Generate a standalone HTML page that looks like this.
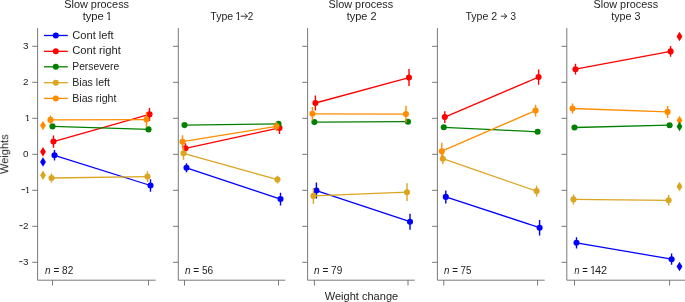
<!DOCTYPE html>
<html><head><meta charset="utf-8"><style>
html,body{margin:0;padding:0;background:#fff;width:685px;height:302px;overflow:hidden}
svg{display:block}
text{font-family:"Liberation Sans",sans-serif;will-change:transform}
</style></head><body>
<svg width="685" height="302" viewBox="0 0 685 302">
<path d="M37.6 28 V280.2 H155.7" fill="none" stroke="#7a7a7a" stroke-width="1"/>
<path d="M32.3 46.3 H37.6" stroke="#777" stroke-width="1"/>
<path d="M32.3 82.3 H37.6" stroke="#777" stroke-width="1"/>
<path d="M32.3 118.3 H37.6" stroke="#777" stroke-width="1"/>
<path d="M32.3 154.3 H37.6" stroke="#777" stroke-width="1"/>
<path d="M32.3 190.3 H37.6" stroke="#777" stroke-width="1"/>
<path d="M32.3 226.3 H37.6" stroke="#777" stroke-width="1"/>
<path d="M32.3 262.3 H37.6" stroke="#777" stroke-width="1"/>
<path d="M52.5 280.2 V285.5" stroke="#777" stroke-width="1"/>
<path d="M148.5 280.2 V285.5" stroke="#777" stroke-width="1"/>
<path d="M178.3 28 V280.2 H285.3" fill="none" stroke="#7a7a7a" stroke-width="1"/>
<path d="M173.0 46.3 H178.3" stroke="#777" stroke-width="1"/>
<path d="M173.0 82.3 H178.3" stroke="#777" stroke-width="1"/>
<path d="M173.0 118.3 H178.3" stroke="#777" stroke-width="1"/>
<path d="M173.0 154.3 H178.3" stroke="#777" stroke-width="1"/>
<path d="M173.0 190.3 H178.3" stroke="#777" stroke-width="1"/>
<path d="M173.0 226.3 H178.3" stroke="#777" stroke-width="1"/>
<path d="M173.0 262.3 H178.3" stroke="#777" stroke-width="1"/>
<path d="M184.5 280.2 V285.5" stroke="#777" stroke-width="1"/>
<path d="M278.5 280.2 V285.5" stroke="#777" stroke-width="1"/>
<path d="M307.6 28 V280.2 H414.7" fill="none" stroke="#7a7a7a" stroke-width="1"/>
<path d="M302.3 46.3 H307.6" stroke="#777" stroke-width="1"/>
<path d="M302.3 82.3 H307.6" stroke="#777" stroke-width="1"/>
<path d="M302.3 118.3 H307.6" stroke="#777" stroke-width="1"/>
<path d="M302.3 154.3 H307.6" stroke="#777" stroke-width="1"/>
<path d="M302.3 190.3 H307.6" stroke="#777" stroke-width="1"/>
<path d="M302.3 226.3 H307.6" stroke="#777" stroke-width="1"/>
<path d="M302.3 262.3 H307.6" stroke="#777" stroke-width="1"/>
<path d="M314.4 280.2 V285.5" stroke="#777" stroke-width="1"/>
<path d="M408.0 280.2 V285.5" stroke="#777" stroke-width="1"/>
<path d="M437.4 28 V280.2 H544.7" fill="none" stroke="#7a7a7a" stroke-width="1"/>
<path d="M432.1 46.3 H437.4" stroke="#777" stroke-width="1"/>
<path d="M432.1 82.3 H437.4" stroke="#777" stroke-width="1"/>
<path d="M432.1 118.3 H437.4" stroke="#777" stroke-width="1"/>
<path d="M432.1 154.3 H437.4" stroke="#777" stroke-width="1"/>
<path d="M432.1 190.3 H437.4" stroke="#777" stroke-width="1"/>
<path d="M432.1 226.3 H437.4" stroke="#777" stroke-width="1"/>
<path d="M432.1 262.3 H437.4" stroke="#777" stroke-width="1"/>
<path d="M443.8 280.2 V285.5" stroke="#777" stroke-width="1"/>
<path d="M537.6 280.2 V285.5" stroke="#777" stroke-width="1"/>
<path d="M566.8 28 V280.2 H686" fill="none" stroke="#7a7a7a" stroke-width="1"/>
<path d="M561.5 46.3 H566.8" stroke="#777" stroke-width="1"/>
<path d="M561.5 82.3 H566.8" stroke="#777" stroke-width="1"/>
<path d="M561.5 118.3 H566.8" stroke="#777" stroke-width="1"/>
<path d="M561.5 154.3 H566.8" stroke="#777" stroke-width="1"/>
<path d="M561.5 190.3 H566.8" stroke="#777" stroke-width="1"/>
<path d="M561.5 226.3 H566.8" stroke="#777" stroke-width="1"/>
<path d="M561.5 262.3 H566.8" stroke="#777" stroke-width="1"/>
<path d="M574.5 280.2 V285.5" stroke="#777" stroke-width="1"/>
<path d="M669.6 280.2 V285.5" stroke="#777" stroke-width="1"/>
<clipPath id="c1_1"><rect x="104.07" y="6" width="10.70" height="13"/><rect x="108.31" y="18" width="1.85" height="3"/></clipPath>
<text x="106.07" y="19.9" font-size="10.7" fill="#1e1e1e" clip-path="url(#c1_1)">1</text>
<clipPath id="c1_2"><rect x="233.27" y="6" width="10.70" height="13"/><rect x="237.51" y="18" width="1.85" height="3"/></clipPath>
<text x="235.27" y="19.7" font-size="10.7" fill="#1e1e1e" clip-path="url(#c1_2)">1</text>
<clipPath id="c1_3"><rect x="588.02" y="260" width="10.70" height="13"/><rect x="592.26" y="272" width="1.85" height="3"/></clipPath>
<text x="590.02" y="273.8" font-size="10.7" fill="#1e1e1e" clip-path="url(#c1_3)">1</text>
<text transform="translate(64.21 8.0) scale(1.0197 1)" font-size="10.7" fill="#1e1e1e">Slow process</text>
<text transform="translate(82.63 19.9) scale(1.0515 1)" font-size="10.7" fill="#1e1e1e">type</text>
<text transform="translate(210.27 19.7) scale(0.9870 1)" font-size="10.7" fill="#1e1e1e">Type</text>
<text transform="translate(247.71 19.7) scale(0.9223 1)" font-size="10.7" fill="#1e1e1e">2</text>
<text transform="translate(328.61 8.0) scale(1.0133 1)" font-size="10.7" fill="#1e1e1e">Slow process</text>
<text transform="translate(346.64 19.9) scale(1.0263 1)" font-size="10.7" fill="#1e1e1e">type 2</text>
<text transform="translate(465.47 19.7) scale(0.9888 1)" font-size="10.7" fill="#1e1e1e">Type 2</text>
<text transform="translate(510.62 19.7) scale(0.9267 1)" font-size="10.7" fill="#1e1e1e">3</text>
<text transform="translate(593.61 8.0) scale(1.0133 1)" font-size="10.7" fill="#1e1e1e">Slow process</text>
<text transform="translate(611.24 19.9) scale(1.0030 1)" font-size="10.7" fill="#1e1e1e">type 3</text>
<path d="M240.7 16.2 H247.3 M244.7 13.6 L247.6 16.2 L244.7 18.8" fill="none" stroke="#1e1e1e" stroke-width="0.9"/>
<path d="M500.9 16.2 H506.6 M504.0 13.6 L506.9 16.2 L504.0 18.8" fill="none" stroke="#1e1e1e" stroke-width="0.9"/>
<path d="M44 35.5 H67.8" stroke="#0000ff" stroke-width="1.3"/>
<circle cx="55.8" cy="35.5" r="3" fill="#0000ff"/>
<text transform="translate(72.23 38.7) scale(1.0401 1)" font-size="10.7" fill="#1e1e1e">Cont left</text>
<path d="M44 51.3 H67.8" stroke="#ff0000" stroke-width="1.3"/>
<circle cx="55.8" cy="51.3" r="3" fill="#ff0000"/>
<text transform="translate(72.23 54.2) scale(1.0486 1)" font-size="10.7" fill="#1e1e1e">Cont right</text>
<path d="M44 66.8 H67.8" stroke="#008000" stroke-width="1.3"/>
<circle cx="55.8" cy="66.8" r="3" fill="#008000"/>
<text transform="translate(72.25 70.0) scale(0.9658 1)" font-size="10.7" fill="#1e1e1e">Persevere</text>
<path d="M44 82.7 H67.8" stroke="#daa520" stroke-width="1.3"/>
<circle cx="55.8" cy="82.7" r="3" fill="#daa520"/>
<text transform="translate(72.23 85.6) scale(0.9917 1)" font-size="10.7" fill="#1e1e1e">Bias left</text>
<path d="M44 98.4 H67.8" stroke="#ff8c00" stroke-width="1.3"/>
<circle cx="55.8" cy="98.4" r="3" fill="#ff8c00"/>
<text transform="translate(72.23 101.5) scale(0.9918 1)" font-size="10.7" fill="#1e1e1e">Bias right</text>
<text transform="translate(45.03 273.8) scale(0.9411 1)" font-size="10.7" fill="#1e1e1e"><tspan font-style="italic">n</tspan> = 82</text>
<text transform="translate(184.93 273.8) scale(0.9424 1)" font-size="10.7" fill="#1e1e1e"><tspan font-style="italic">n</tspan> = 56</text>
<text transform="translate(314.03 273.8) scale(0.9400 1)" font-size="10.7" fill="#1e1e1e"><tspan font-style="italic">n</tspan> = 79</text>
<text transform="translate(444.03 273.8) scale(0.9145 1)" font-size="10.7" fill="#1e1e1e"><tspan font-style="italic">n</tspan> = 75</text>
<text transform="translate(574.34 273.8) scale(0.8917 1)" font-size="10.7" fill="#1e1e1e"><tspan font-style="italic">n</tspan> =</text>
<text transform="translate(594.95 273.8) scale(1.0254 1)" font-size="10.7" fill="#1e1e1e">42</text>
<text x="22.93" y="49.0" font-size="9.9" fill="#1e1e1e">3</text>
<text x="22.99" y="85.0" font-size="9.9" fill="#1e1e1e">2</text>
<clipPath id="c1_4"><rect x="22.79" y="107" width="9.90" height="13"/><rect x="26.83" y="119" width="1.77" height="3"/></clipPath>
<text x="24.79" y="121.0" font-size="9.9" fill="#1e1e1e" clip-path="url(#c1_4)">1</text>
<text x="22.88" y="157.0" font-size="9.9" fill="#1e1e1e">0</text>
<clipPath id="c1_5"><rect x="22.74" y="179" width="9.90" height="13"/><rect x="26.78" y="191" width="1.77" height="3"/></clipPath>
<text x="24.74" y="193.0" font-size="9.9" fill="#1e1e1e" clip-path="url(#c1_5)">1</text>
<path d="M21.62 189.6 H24.92" stroke="#1e1e1e" stroke-width="0.9"/>
<text x="22.99" y="229.0" font-size="9.9" fill="#1e1e1e">2</text>
<path d="M19.39 225.6 H22.69" stroke="#1e1e1e" stroke-width="0.9"/>
<text x="22.93" y="265.0" font-size="9.9" fill="#1e1e1e">3</text>
<path d="M19.21 261.6 H22.51" stroke="#1e1e1e" stroke-width="0.9"/>
<text transform="translate(324.76 299.6) scale(1.0329 1)" font-size="10.7" fill="#1e1e1e">Weight change</text>
<text transform="translate(8.2 174.04) rotate(-90) scale(1.0531 1)" font-size="10.5" fill="#1e1e1e">Weights</text>
<path d="M54.5 155.3 L150.5 185.5" stroke="#0000ff" stroke-width="1.3"/>
<path d="M54.5 150.0 V160.6 M150.5 179.2 V191.8" stroke="#0000ff" stroke-width="1.4"/>
<circle cx="54.5" cy="155.3" r="3.05" fill="#0000ff"/><circle cx="150.5" cy="185.5" r="3.05" fill="#0000ff"/>
<path d="M53.5 141.6 L149.5 114.4" stroke="#ff0000" stroke-width="1.3"/>
<path d="M53.5 135.5 V147.7 M149.5 107.9 V120.9" stroke="#ff0000" stroke-width="1.4"/>
<circle cx="53.5" cy="141.6" r="3.05" fill="#ff0000"/><circle cx="149.5" cy="114.4" r="3.05" fill="#ff0000"/>
<path d="M52.5 126.4 L148.5 129.4" stroke="#008000" stroke-width="1.3"/>
<circle cx="52.5" cy="126.4" r="3.05" fill="#008000"/><circle cx="148.5" cy="129.4" r="3.05" fill="#008000"/>
<path d="M51.5 178.0 L147.5 176.6" stroke="#daa520" stroke-width="1.3"/>
<path d="M51.5 173.5 V182.5 M147.5 171.3 V181.9" stroke="#daa520" stroke-width="1.4"/>
<circle cx="51.5" cy="178.0" r="3.05" fill="#daa520"/><circle cx="147.5" cy="176.6" r="3.05" fill="#daa520"/>
<path d="M50.5 119.9 L146.5 119.6" stroke="#ff8c00" stroke-width="1.3"/>
<path d="M50.5 115.4 V124.4 M146.5 111.9 V127.3" stroke="#ff8c00" stroke-width="1.4"/>
<circle cx="50.5" cy="119.9" r="3.05" fill="#ff8c00"/><circle cx="146.5" cy="119.6" r="3.05" fill="#ff8c00"/>
<path d="M186.5 167.8 L280.5 199.1" stroke="#0000ff" stroke-width="1.3"/>
<path d="M186.5 163.3 V172.3 M280.5 192.7 V205.5" stroke="#0000ff" stroke-width="1.4"/>
<circle cx="186.5" cy="167.8" r="3.05" fill="#0000ff"/><circle cx="280.5" cy="199.1" r="3.05" fill="#0000ff"/>
<path d="M185.5 148.3 L279.5 127.9" stroke="#ff0000" stroke-width="1.3"/>
<path d="M185.5 143.3 V153.3 M279.5 121.9 V133.9" stroke="#ff0000" stroke-width="1.4"/>
<circle cx="185.5" cy="148.3" r="3.05" fill="#ff0000"/><circle cx="279.5" cy="127.9" r="3.05" fill="#ff0000"/>
<path d="M184.5 125.1 L278.5 123.9" stroke="#008000" stroke-width="1.3"/>
<circle cx="184.5" cy="125.1" r="3.05" fill="#008000"/><circle cx="278.5" cy="123.9" r="3.05" fill="#008000"/>
<path d="M183.5 153.3 L277.5 179.6" stroke="#daa520" stroke-width="1.3"/>
<path d="M183.5 146.9 V159.7 M277.5 175.7 V183.5" stroke="#daa520" stroke-width="1.4"/>
<circle cx="183.5" cy="153.3" r="3.05" fill="#daa520"/><circle cx="277.5" cy="179.6" r="3.05" fill="#daa520"/>
<path d="M182.5 141.7 L276.5 126.4" stroke="#ff8c00" stroke-width="1.3"/>
<path d="M182.5 135.3 V148.1 M276.5 121.7 V131.2" stroke="#ff8c00" stroke-width="1.4"/>
<circle cx="182.5" cy="141.7" r="3.05" fill="#ff8c00"/><circle cx="276.5" cy="126.4" r="3.05" fill="#ff8c00"/>
<path d="M316.4 190.6 L410.0 221.7" stroke="#0000ff" stroke-width="1.3"/>
<path d="M316.4 182.6 V198.6 M410.0 213.7 V229.7" stroke="#0000ff" stroke-width="1.4"/>
<circle cx="316.4" cy="190.6" r="3.05" fill="#0000ff"/><circle cx="410.0" cy="221.7" r="3.05" fill="#0000ff"/>
<path d="M315.4 103.0 L409.0 77.6" stroke="#ff0000" stroke-width="1.3"/>
<path d="M315.4 95.4 V110.6 M409.0 69.1 V86.1" stroke="#ff0000" stroke-width="1.4"/>
<circle cx="315.4" cy="103.0" r="3.05" fill="#ff0000"/><circle cx="409.0" cy="77.6" r="3.05" fill="#ff0000"/>
<path d="M314.4 122.1 L408.0 121.7" stroke="#008000" stroke-width="1.3"/>
<circle cx="314.4" cy="122.1" r="3.05" fill="#008000"/><circle cx="408.0" cy="121.7" r="3.05" fill="#008000"/>
<path d="M313.4 195.9 L407.0 192.2" stroke="#daa520" stroke-width="1.3"/>
<path d="M313.4 188.1 V203.7 M407.0 183.3 V201.1" stroke="#daa520" stroke-width="1.4"/>
<circle cx="313.4" cy="195.9" r="3.05" fill="#daa520"/><circle cx="407.0" cy="192.2" r="3.05" fill="#daa520"/>
<path d="M312.4 113.8 L406.0 114.1" stroke="#ff8c00" stroke-width="1.3"/>
<path d="M312.4 107.1 V120.5 M406.0 105.7 V122.5" stroke="#ff8c00" stroke-width="1.4"/>
<circle cx="312.4" cy="113.8" r="3.05" fill="#ff8c00"/><circle cx="406.0" cy="114.1" r="3.05" fill="#ff8c00"/>
<path d="M445.8 196.9 L539.6 227.7" stroke="#0000ff" stroke-width="1.3"/>
<path d="M445.8 190.4 V203.4 M539.6 220.0 V235.4" stroke="#0000ff" stroke-width="1.4"/>
<circle cx="445.8" cy="196.9" r="3.05" fill="#0000ff"/><circle cx="539.6" cy="227.7" r="3.05" fill="#0000ff"/>
<path d="M444.8 117.1 L538.6 77.1" stroke="#ff0000" stroke-width="1.3"/>
<path d="M444.8 111.2 V123.0 M538.6 69.5 V84.7" stroke="#ff0000" stroke-width="1.4"/>
<circle cx="444.8" cy="117.1" r="3.05" fill="#ff0000"/><circle cx="538.6" cy="77.1" r="3.05" fill="#ff0000"/>
<path d="M443.8 127.3 L537.6 131.8" stroke="#008000" stroke-width="1.3"/>
<circle cx="443.8" cy="127.3" r="3.05" fill="#008000"/><circle cx="537.6" cy="131.8" r="3.05" fill="#008000"/>
<path d="M442.8 158.7 L536.6 191.1" stroke="#daa520" stroke-width="1.3"/>
<path d="M442.8 153.1 V164.3 M536.6 185.7 V196.5" stroke="#daa520" stroke-width="1.4"/>
<circle cx="442.8" cy="158.7" r="3.05" fill="#daa520"/><circle cx="536.6" cy="191.1" r="3.05" fill="#daa520"/>
<path d="M441.8 151.2 L535.6 110.6" stroke="#ff8c00" stroke-width="1.3"/>
<path d="M441.8 142.8 V159.6 M535.6 104.8 V116.4" stroke="#ff8c00" stroke-width="1.4"/>
<circle cx="441.8" cy="151.2" r="3.05" fill="#ff8c00"/><circle cx="535.6" cy="110.6" r="3.05" fill="#ff8c00"/>
<path d="M576.5 242.8 L671.6 259.2" stroke="#0000ff" stroke-width="1.3"/>
<path d="M576.5 237.2 V248.4 M671.6 253.6 V264.8" stroke="#0000ff" stroke-width="1.4"/>
<circle cx="576.5" cy="242.8" r="3.05" fill="#0000ff"/><circle cx="671.6" cy="259.2" r="3.05" fill="#0000ff"/>
<path d="M575.5 69.2 L670.6 51.4" stroke="#ff0000" stroke-width="1.3"/>
<path d="M575.5 63.8 V74.6 M670.6 46.1 V56.7" stroke="#ff0000" stroke-width="1.4"/>
<circle cx="575.5" cy="69.2" r="3.05" fill="#ff0000"/><circle cx="670.6" cy="51.4" r="3.05" fill="#ff0000"/>
<path d="M574.5 127.5 L669.6 125.2" stroke="#008000" stroke-width="1.3"/>
<circle cx="574.5" cy="127.5" r="3.05" fill="#008000"/><circle cx="669.6" cy="125.2" r="3.05" fill="#008000"/>
<path d="M573.5 199.4 L668.6 200.3" stroke="#daa520" stroke-width="1.3"/>
<path d="M573.5 194.4 V204.4 M668.6 195.1 V205.5" stroke="#daa520" stroke-width="1.4"/>
<circle cx="573.5" cy="199.4" r="3.05" fill="#daa520"/><circle cx="668.6" cy="200.3" r="3.05" fill="#daa520"/>
<path d="M572.5 108.5 L667.6 111.9" stroke="#ff8c00" stroke-width="1.3"/>
<path d="M572.5 103.5 V113.5 M667.6 105.9 V117.9" stroke="#ff8c00" stroke-width="1.4"/>
<circle cx="572.5" cy="108.5" r="3.05" fill="#ff8c00"/><circle cx="667.6" cy="111.9" r="3.05" fill="#ff8c00"/>
<path d="M43.0 120.85 L45.9 125.6 L43.0 130.35 L40.1 125.6 Z" fill="#ff8c00"/>
<path d="M43.0 146.95 L45.9 151.7 L43.0 156.45 L40.1 151.7 Z" fill="#ff0000"/>
<path d="M43.0 157.25 L45.9 162.0 L43.0 166.75 L40.1 162.0 Z" fill="#0000ff"/>
<path d="M43.0 170.45 L45.9 175.2 L43.0 179.95 L40.1 175.2 Z" fill="#daa520"/>
<path d="M679.5 31.65 L682.4 36.4 L679.5 41.15 L676.6 36.4 Z" fill="#ff0000"/>
<path d="M679.5 115.65 L682.4 120.4 L679.5 125.15 L676.6 120.4 Z" fill="#ff8c00"/>
<path d="M679.5 121.85 L682.4 126.6 L679.5 131.35 L676.6 126.6 Z" fill="#008000"/>
<path d="M679.5 181.65 L682.4 186.4 L679.5 191.15 L676.6 186.4 Z" fill="#daa520"/>
<path d="M679.5 261.85 L682.4 266.6 L679.5 271.35 L676.6 266.6 Z" fill="#0000ff"/>
</svg>
</body></html>
